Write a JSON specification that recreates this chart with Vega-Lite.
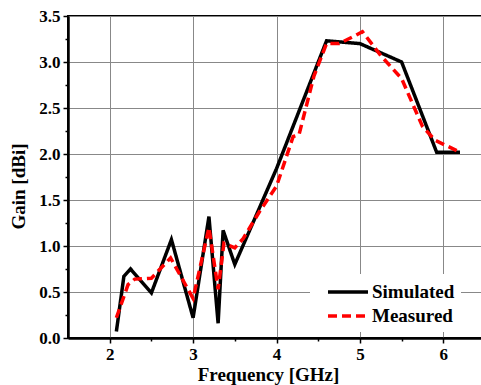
{
  "$schema": "https://vega.github.io/schema/vega-lite/v6.json",
  "width": 417,
  "height": 322,
  "autosize": {"type": "none"},
  "padding": {"left": 68, "top": 16, "right": 0, "bottom": 47},
  "background": "white",
  "config": {
    "font": "Liberation Serif",
    "view": {"stroke": "black", "strokeWidth": 2}
  },
  "data": {
    "values": [
      {"freq": 2.08, "gain": 0.07, "series": "Simulated"},
      {"freq": 2.17, "gain": 0.67, "series": "Simulated"},
      {"freq": 2.25, "gain": 0.75, "series": "Simulated"},
      {"freq": 2.5, "gain": 0.49, "series": "Simulated"},
      {"freq": 2.74, "gain": 1.07, "series": "Simulated"},
      {"freq": 3.0, "gain": 0.22, "series": "Simulated"},
      {"freq": 3.19, "gain": 1.32, "series": "Simulated"},
      {"freq": 3.3, "gain": 0.16, "series": "Simulated"},
      {"freq": 3.36, "gain": 1.17, "series": "Simulated"},
      {"freq": 3.5, "gain": 0.8, "series": "Simulated"},
      {"freq": 4.0, "gain": 1.84, "series": "Simulated"},
      {"freq": 4.6, "gain": 3.23, "series": "Simulated"},
      {"freq": 5.0, "gain": 3.2, "series": "Simulated"},
      {"freq": 5.5, "gain": 3.0, "series": "Simulated"},
      {"freq": 5.92, "gain": 2.02, "series": "Simulated"},
      {"freq": 6.2, "gain": 2.02, "series": "Simulated"},
      {"freq": 2.08, "gain": 0.22, "series": "Measured"},
      {"freq": 2.22, "gain": 0.58, "series": "Measured"},
      {"freq": 2.3, "gain": 0.64, "series": "Measured"},
      {"freq": 2.5, "gain": 0.65, "series": "Measured"},
      {"freq": 2.73, "gain": 0.87, "series": "Measured"},
      {"freq": 3.0, "gain": 0.43, "series": "Measured"},
      {"freq": 3.19, "gain": 1.2, "series": "Measured"},
      {"freq": 3.3, "gain": 0.53, "series": "Measured"},
      {"freq": 3.37, "gain": 1.03, "series": "Measured"},
      {"freq": 3.5, "gain": 0.98, "series": "Measured"},
      {"freq": 3.6, "gain": 1.08, "series": "Measured"},
      {"freq": 3.8, "gain": 1.38, "series": "Measured"},
      {"freq": 4.0, "gain": 1.65, "series": "Measured"},
      {"freq": 4.1, "gain": 1.92, "series": "Measured"},
      {"freq": 4.2, "gain": 2.19, "series": "Measured"},
      {"freq": 4.27, "gain": 2.21, "series": "Measured"},
      {"freq": 4.45, "gain": 2.85, "series": "Measured"},
      {"freq": 4.6, "gain": 3.2, "series": "Measured"},
      {"freq": 4.75, "gain": 3.2, "series": "Measured"},
      {"freq": 4.95, "gain": 3.29, "series": "Measured"},
      {"freq": 5.03, "gain": 3.33, "series": "Measured"},
      {"freq": 5.25, "gain": 3.07, "series": "Measured"},
      {"freq": 5.5, "gain": 2.82, "series": "Measured"},
      {"freq": 5.75, "gain": 2.3, "series": "Measured"},
      {"freq": 5.9, "gain": 2.15, "series": "Measured"},
      {"freq": 6.2, "gain": 2.02, "series": "Measured"}
    ]
  },
  "mark": {"type": "line", "strokeWidth": 3.5, "clip": true},
  "encoding": {
    "x": {
      "field": "freq",
      "type": "quantitative",
      "scale": {"domain": [1.5, 6.5], "nice": false, "zero": false},
      "axis": {
        "title": "Frequency [GHz]",
        "values": [2, 2.5, 3, 3.5, 4, 4.5, 5, 5.5, 6],
        "labelExpr": "datum.value % 1 === 0 ? format(datum.value, 'd') : ''",
        "labelFont": "Liberation Serif",
        "labelFontWeight": "bold",
        "labelFontSize": 17,
        "labelColor": "black",
        "labelPadding": 3,
        "titleFont": "Liberation Serif",
        "titleFontWeight": "bold",
        "titleFontSize": 19,
        "titleColor": "black",
        "titleX": 200,
        "titleY": 27,
        "domainColor": "black",
        "domainWidth": 2.5,
        "tickColor": "black",
        "tickWidth": 1.5,
        "tickSize": {"condition": {"test": "datum.value % 1 !== 0", "value": 3}, "value": 5},
        "grid": true,
        "gridColor": "#888888",
        "gridWidth": 1,
        "gridOpacity": {"condition": {"test": "datum.value % 1 !== 0", "value": 0}, "value": 1}
      }
    },
    "y": {
      "field": "gain",
      "type": "quantitative",
      "scale": {"domain": [0, 3.5], "nice": false},
      "axis": {
        "title": "Gain [dBi]",
        "values": [0, 0.25, 0.5, 0.75, 1, 1.25, 1.5, 1.75, 2, 2.25, 2.5, 2.75, 3, 3.25, 3.5],
        "labelExpr": "datum.value % 0.5 === 0 ? format(datum.value, '.1f') : ''",
        "labelFont": "Liberation Serif",
        "labelFontWeight": "bold",
        "labelFontSize": 17,
        "labelColor": "black",
        "labelPadding": 3,
        "titleFont": "Liberation Serif",
        "titleFontWeight": "bold",
        "titleFontSize": 19,
        "titleColor": "black",
        "titleX": -40,
        "titleY": 170,
        "domainColor": "black",
        "domainWidth": 2.5,
        "tickColor": "black",
        "tickWidth": 1.5,
        "tickSize": {"condition": {"test": "datum.value % 0.5 !== 0", "value": 3}, "value": 5},
        "grid": true,
        "gridColor": "#888888",
        "gridWidth": 1,
        "gridOpacity": {"condition": {"test": "datum.value % 0.5 !== 0", "value": 0}, "value": 1}
      }
    },
    "color": {
      "field": "series",
      "type": "nominal",
      "scale": {"domain": ["Simulated", "Measured"], "range": ["black", "#ff0000"]},
      "legend": {
        "title": null,
        "orient": "none",
        "legendX": 242,
        "legendY": 258,
        "fillColor": "white",
        "padding": 6,
        "symbolType": "M0,0H4",
        "symbolSize": 400,
        "symbolStrokeWidth": 3.5,
        "symbolOffset": 0,
        "labelOffset": 32,
        "labelFont": "Liberation Serif",
        "labelFontWeight": "bold",
        "labelFontSize": 19,
        "labelColor": "black",
        "rowPadding": 2
      }
    },
    "strokeDash": {
      "field": "series",
      "type": "nominal",
      "scale": {"domain": ["Simulated", "Measured"], "range": [[1, 0], [9, 5]]},
      "legend": {
        "title": null,
        "orient": "none",
        "legendX": 242,
        "legendY": 258,
        "fillColor": "white",
        "padding": 6,
        "symbolType": "M0,0H4",
        "symbolSize": 400,
        "symbolStrokeWidth": 3.5,
        "symbolOffset": 0,
        "labelOffset": 32,
        "labelFont": "Liberation Serif",
        "labelFontWeight": "bold",
        "labelFontSize": 19,
        "labelColor": "black",
        "rowPadding": 2
      }
    }
  }
}
